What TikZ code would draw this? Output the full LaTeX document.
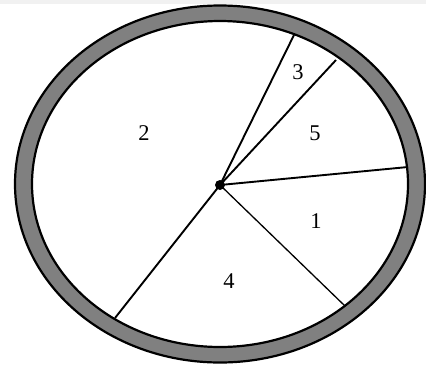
\documentclass[tikz,border=0pt]{standalone}
\usepackage{fontspec}
\setmainfont{Liberation Serif}
\usepackage{tikz}
\usetikzlibrary{positioning}

\definecolor{ringgray}{HTML}{808080}
\definecolor{stripgray}{HTML}{F1F1F1}

\begin{document}
\begin{tikzpicture}[x=1pt, y=-1pt, radius line/.style={line width=1.9pt},
    thin radius/.style={line width=1.3pt},
    num/.style={font=\fontsize{22.5}{22.5}\selectfont}]
        \useasboundingbox (0,0) rectangle (426,365);
        \fill[white] (0,0) rectangle (426,365);
        \fill[stripgray] (0,0) rectangle (426,4);

        % the ring
        \draw[line width=2.2pt, fill=ringgray] (220,184) ellipse [x radius=205, y radius=178.5];
        \draw[line width=2.2pt, fill=white] (220,184) ellipse [x radius=188, y radius=163];

        % ends of the spokes on the inner edge
        \coordinate (e3) at (294,35);
        \coordinate (e5) at (336,60);
        \coordinate (e1) at (408,167);
        \coordinate (e4) at (345,306);
        \coordinate (e2) at (115,318);

        \node[circle, fill=black, inner sep=0pt, minimum size=10pt] (o) at (220,185) {};

        \draw[radius line] (o.center) -- (e3);
        \draw[radius line] (o.center) -- (e5);
        \draw[radius line] (o.center) -- (e1);
        \draw[radius line] (o.center) -- (e2);
        \draw[thin radius] (o.center) -- (e4);

        \node[num] (n3) at (298,72) {3};
        \node[num] (n5) at (315,133) {5};
        \node[num] (n2) at (144,133) {2};
        \node[num] (n1) at (316,221) {1};
        \node[num] (n4) at (229,281) {4};
    \end{tikzpicture}
\end{document}
